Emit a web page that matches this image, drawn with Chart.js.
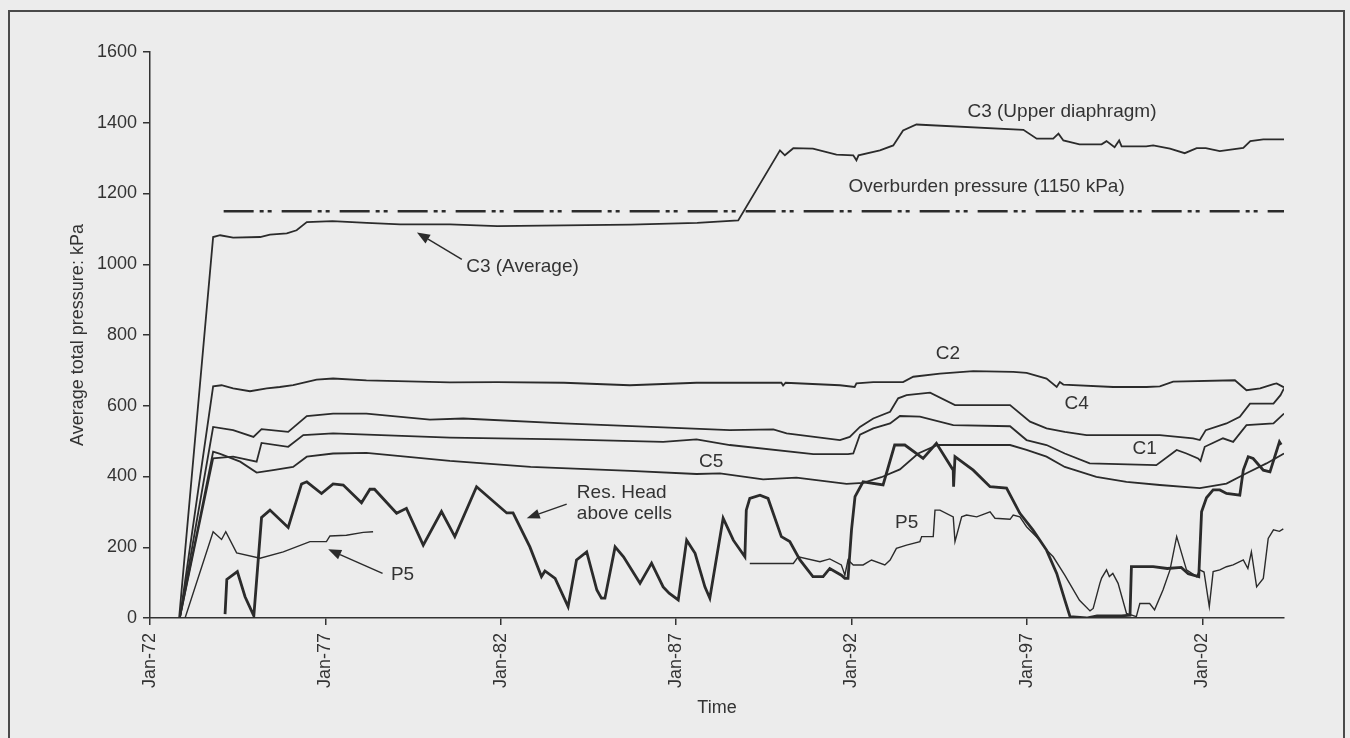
<!DOCTYPE html>
<html>
<head>
<meta charset="utf-8">
<title>Average total pressure</title>
<script src="https://cdn.jsdelivr.net/npm/chart.js@4.4.1/dist/chart.umd.min.js"></script>
<style>
  html, body { margin: 0; padding: 0; background: #ececec; }
  #wrap { width: 1350px; height: 738px; }
</style>
</head>
<body>
<div id="wrap"><canvas id="pressureChart" width="1350" height="738"></canvas></div>
<script>
// x tick positions (decimal years), labelled Jan-yy
const tickYears = [1972, 1977, 1982, 1987, 1992, 1997, 2002];
const overburden = 1150;

// [decimal year, kPa]
const c3 = [
  [1972.83, 0], [1973.80, 1077], [1974.0, 1082], [1974.37, 1075], [1975.14, 1077], [1975.42, 1084],
  [1975.9, 1087], [1976.18, 1096], [1976.47, 1119], [1977.2, 1122], [1978.18, 1117], [1979.13, 1113],
  [1980.55, 1113], [1981.9, 1108], [1983.8, 1110], [1985.7, 1112], [1987.6, 1117], [1988.77, 1124],
  [1989.96, 1322], [1990.1, 1308], [1990.34, 1328], [1990.9, 1327], [1991.57, 1310], [1992.05, 1308],
  [1992.14, 1294], [1992.2, 1308], [1992.81, 1322], [1993.19, 1336], [1993.47, 1378], [1993.85, 1395],
  [1996.9, 1380], [1997.28, 1355], [1997.75, 1355], [1997.9, 1369], [1998.04, 1350], [1998.5, 1339],
  [1999.13, 1339], [1999.27, 1348], [1999.5, 1331], [1999.63, 1350], [1999.7, 1333], [2000.4, 1333],
  [2000.6, 1336], [2001.08, 1327], [2001.5, 1314], [2001.84, 1328], [2002.1, 1328], [2002.5, 1320],
  [2003.17, 1329], [2003.37, 1348], [2003.74, 1353], [2004.33, 1353]
];

const c2 = [
  [1972.85, 0], [1973.8, 655], [1974.04, 658], [1974.37, 649], [1974.85, 641], [1975.33, 649],
  [1975.7, 653], [1976.08, 658], [1976.75, 674], [1977.22, 677], [1978.17, 672], [1980.55, 666],
  [1981.9, 667], [1983.8, 665], [1985.68, 658], [1987.58, 665], [1990.0, 665], [1990.05, 657],
  [1990.12, 665], [1991.67, 658], [1992.09, 653], [1992.14, 663], [1992.62, 667], [1993.47, 667],
  [1993.76, 682], [1994.52, 691], [1995.47, 698], [1996.61, 696], [1996.99, 693], [1997.56, 677],
  [1997.85, 653], [1997.94, 667], [1998.04, 660], [1999.46, 653], [2000.41, 653], [2000.79, 655],
  [2001.17, 668], [2002.93, 672], [2003.26, 644], [2003.65, 649], [2004.03, 661], [2004.12, 663],
  [2004.33, 652]
];

const c4 = [
  [1972.85, 0], [1973.8, 540], [1974.37, 531], [1974.95, 512], [1975.18, 534], [1975.94, 526],
  [1976.47, 571], [1977.22, 578], [1978.17, 578], [1979.98, 561], [1980.93, 564], [1983.78, 550],
  [1986.63, 539], [1988.53, 531], [1989.77, 533], [1990.15, 522], [1991.67, 503], [1991.95, 512],
  [1992.24, 540], [1992.62, 564], [1993.1, 583], [1993.33, 621], [1993.57, 630], [1994.24, 637],
  [1994.95, 602], [1996.52, 602], [1997.09, 555], [1997.56, 536], [1998.08, 526], [1998.7, 517],
  [2000.79, 517], [2001.74, 508], [2001.93, 503], [2002.1, 531], [2002.69, 550], [2003.07, 569],
  [2003.36, 606], [2004.03, 606], [2004.23, 630], [2004.33, 649]
];

const c1 = [
  [1972.85, 0], [1973.8, 451], [1974.37, 456], [1975.04, 442], [1975.18, 495], [1975.94, 484],
  [1976.37, 517], [1977.22, 522], [1980.55, 510], [1983.78, 505], [1986.63, 498], [1987.58, 505],
  [1988.53, 489], [1990.91, 463], [1991.9, 463], [1992.05, 465], [1992.24, 518], [1992.62, 536],
  [1993.1, 550], [1993.38, 571], [1993.95, 569], [1994.9, 545], [1996.52, 542], [1996.99, 503],
  [1997.56, 489], [1998.08, 465], [1998.79, 437], [2000.69, 432], [2001.27, 475], [2001.55, 465],
  [2001.88, 451], [2001.95, 444], [2002.07, 484], [2002.59, 508], [2002.88, 498], [2003.26, 545],
  [2004.03, 550], [2004.33, 578]
];

const c5 = [
  [1972.85, 0], [1973.8, 470], [1974.0, 464], [1974.57, 442], [1975.04, 411], [1975.51, 418],
  [1976.08, 427], [1976.47, 456], [1977.22, 465], [1978.17, 467], [1980.55, 444], [1982.85, 427],
  [1985.7, 416], [1987.58, 407], [1988.25, 409], [1989.48, 392], [1990.43, 397], [1991.86, 379],
  [1992.33, 382], [1992.85, 398], [1993.38, 420], [1993.9, 465], [1994.45, 489], [1996.52, 489],
  [1996.99, 475], [1997.56, 456], [1998.08, 427], [1998.98, 399], [1999.84, 385], [2000.79, 376],
  [2001.93, 367], [2002.69, 380], [2003.26, 409], [2003.83, 437], [2004.33, 465]
];

const resHead = [
  [1974.14, 11], [1974.19, 109], [1974.49, 131], [1974.71, 60], [1974.96, 6], [1975.18, 284],
  [1975.42, 305], [1975.94, 256], [1976.32, 379], [1976.47, 385], [1976.89, 352], [1977.22, 379],
  [1977.51, 376], [1978.03, 326], [1978.27, 364], [1978.4, 364], [1979.03, 296], [1979.31, 310],
  [1979.79, 206], [1980.31, 301], [1980.69, 230], [1981.31, 371], [1982.17, 297], [1982.35, 297],
  [1982.83, 201], [1983.16, 117], [1983.26, 133], [1983.55, 112], [1983.92, 32], [1984.16, 164],
  [1984.45, 187], [1984.74, 79], [1984.87, 56], [1984.97, 56], [1985.26, 201], [1985.5, 173],
  [1985.97, 98], [1986.3, 155], [1986.63, 88], [1986.8, 70], [1987.06, 51], [1987.3, 220],
  [1987.54, 183], [1987.82, 88], [1987.96, 56], [1988.34, 282], [1988.63, 220], [1988.96, 173],
  [1989.0, 305], [1989.1, 338], [1989.39, 347], [1989.62, 338], [1990.0, 230], [1990.24, 216],
  [1990.53, 164], [1990.9, 117], [1991.19, 117], [1991.38, 140], [1991.71, 121], [1991.81, 112],
  [1991.9, 112], [1992.0, 249], [1992.1, 343], [1992.33, 385], [1992.9, 376], [1993.23, 489],
  [1993.52, 489], [1994.04, 451], [1994.42, 494], [1994.9, 418], [1994.91, 371], [1994.95, 456],
  [1995.47, 418], [1995.95, 371], [1996.42, 367], [1996.8, 296], [1997.17, 249], [1997.56, 192],
  [1997.85, 126], [1998.08, 51], [1998.23, 4], [1998.7, 0], [1999.0, 6], [1999.7, 6],
  [1999.94, 8], [1999.98, 145], [2000.6, 145], [2001.0, 140], [2001.4, 143], [2001.6, 125],
  [2001.9, 117], [2001.98, 300], [2002.12, 340], [2002.31, 362], [2002.5, 362], [2002.69, 352],
  [2003.07, 347], [2003.17, 418], [2003.31, 456], [2003.45, 451], [2003.74, 418], [2003.93, 413],
  [2004.2, 498], [2004.25, 490]
];

const p5Early = [
  [1973.0, 0], [1973.8, 244], [1974.04, 222], [1974.16, 244], [1974.47, 184], [1975.14, 169],
  [1975.8, 187], [1976.56, 216], [1977.03, 216], [1977.13, 232], [1977.6, 234], [1978.08, 242],
  [1978.36, 244]
];

const p5Late = [
  [1989.1, 154], [1990.34, 154], [1990.48, 173], [1991.1, 159], [1991.38, 167], [1991.71, 150],
  [1991.76, 136], [1991.81, 121], [1991.9, 164], [1992.05, 150], [1992.33, 150], [1992.57, 164],
  [1992.95, 150], [1993.1, 164], [1993.28, 197], [1993.57, 206], [1993.95, 216], [1994.0, 230],
  [1994.33, 230], [1994.38, 305], [1994.52, 305], [1994.9, 286], [1994.95, 216], [1995.14, 286],
  [1995.28, 291], [1995.57, 286], [1995.95, 300], [1996.09, 282], [1996.52, 279], [1996.61, 291],
  [1996.8, 286], [1996.99, 258], [1997.37, 220], [1997.56, 192], [1997.75, 173], [1998.08, 121],
  [1998.5, 50], [1998.8, 20], [1998.89, 27], [1999.08, 98], [1999.13, 113], [1999.27, 136],
  [1999.35, 117], [1999.45, 126], [1999.6, 98], [1999.84, 13], [2000.12, 4], [2000.22, 41],
  [2000.5, 41], [2000.64, 23], [2000.88, 79], [2001.08, 136], [2001.27, 230], [2001.55, 136],
  [2001.84, 117], [2001.93, 136], [2002.05, 130], [2002.2, 32], [2002.31, 131], [2002.5, 136],
  [2002.69, 145], [2002.88, 150], [2003.17, 164], [2003.3, 140], [2003.4, 187], [2003.55, 88],
  [2003.74, 112], [2003.88, 225], [2004.03, 249], [2004.2, 245], [2004.31, 252]
];

const overburdenSpan = [1974.1, 2004.35];

// text labels and pointer arrows, placed in data units
const notes = [
  { text: 'C3 (Upper diaphragm)', x: 1998.0, y: 1430 },
  { text: 'Overburden pressure (1150 kPa)', x: 1995.85, y: 1218 },
  { text: 'C3 (Average)', x: 1982.62, y: 992 },
  { text: 'C2', x: 1994.75, y: 748 },
  { text: 'C4', x: 1998.42, y: 606 },
  { text: 'C1', x: 2000.36, y: 477 },
  { text: 'C5', x: 1988.0, y: 442 },
  { text: 'Res. Head', x: 1984.17, y: 355, align: 'left' },
  { text: 'above cells', x: 1984.17, y: 296, align: 'left' },
  { text: 'P5', x: 1979.2, y: 121 },
  { text: 'P5', x: 1993.57, y: 269 }
];
const arrows = [
  { from: [1980.89, 1014], to: [1979.61, 1090] },
  { from: [1983.88, 322], to: [1982.74, 282] },
  { from: [1978.63, 126], to: [1977.08, 194] }
];

const INK = '#2b2b2b';
const TEXT = '#333333';
const FONT = "'Liberation Sans', Arial, sans-serif";

const toPoints = arr => arr.map(([x, y]) => ({ x, y }));

function lineSet(label, arr, width) {
  return {
    label,
    data: toPoints(arr),
    borderColor: INK,
    borderWidth: width,
    pointRadius: 0,
    tension: 0,
    fill: false
  };
}

const pagePlugin = {
  id: 'page',
  beforeDraw(chart) {
    const { ctx, width, height } = chart;
    ctx.save();
    ctx.fillStyle = '#ececec';
    ctx.fillRect(0, 0, width, height);
    ctx.strokeStyle = '#4a4a4a';
    ctx.lineWidth = 2;
    ctx.strokeRect(9, 11, 1335, height + 20);
    ctx.restore();
  }
};

const notesPlugin = {
  id: 'notes',
  afterDatasetsDraw(chart) {
    const { ctx } = chart;
    const xs = chart.scales.x, ys = chart.scales.y;
    ctx.save();
    ctx.fillStyle = TEXT;
    ctx.font = '19px ' + FONT;
    ctx.textBaseline = 'middle';
    notes.forEach(n => {
      ctx.textAlign = n.align || 'center';
      ctx.fillText(n.text, xs.getPixelForValue(n.x), ys.getPixelForValue(n.y));
    });

    ctx.strokeStyle = INK;
    ctx.fillStyle = INK;
    ctx.lineWidth = 1.5;
    arrows.forEach(a => {
      const x0 = xs.getPixelForValue(a.from[0]), y0 = ys.getPixelForValue(a.from[1]);
      const x1 = xs.getPixelForValue(a.to[0]), y1 = ys.getPixelForValue(a.to[1]);
      const ang = Math.atan2(y1 - y0, x1 - x0);
      const len = 13, half = 5;
      const bx = x1 - len * Math.cos(ang), by = y1 - len * Math.sin(ang);
      ctx.beginPath();
      ctx.moveTo(x0, y0);
      ctx.lineTo(bx, by);
      ctx.stroke();
      ctx.beginPath();
      ctx.moveTo(x1, y1);
      ctx.lineTo(bx + half * Math.sin(ang), by - half * Math.cos(ang));
      ctx.lineTo(bx - half * Math.sin(ang), by + half * Math.cos(ang));
      ctx.closePath();
      ctx.fill();
    });
    ctx.restore();
  }
};

new Chart(document.getElementById('pressureChart'), {
  type: 'line',
  data: {
    datasets: [
      {
        label: 'Overburden pressure',
        data: overburdenSpan.map(x => ({ x, y: overburden })),
        borderColor: INK,
        borderWidth: 2.5,
        borderDash: [30, 6, 4, 4, 4, 10],
        pointRadius: 0,
        fill: false
      },
      lineSet('C3', c3, 1.8),
      lineSet('C2', c2, 1.8),
      lineSet('C4', c4, 1.8),
      lineSet('C1', c1, 1.8),
      lineSet('C5', c5, 1.8),
      lineSet('Res. Head above cells', resHead, 2.8),
      lineSet('P5', p5Early, 1.4),
      lineSet('P5 (later)', p5Late, 1.4)
    ]
  },
  options: {
    responsive: false,
    animation: false,
    layout: { padding: { left: 10, top: 52, right: 66, bottom: 0 } },
    plugins: {
      legend: { display: false },
      tooltip: { enabled: false }
    },
    scales: {
      x: {
        type: 'linear',
        min: 1972,
        max: 2004.33,
        afterBuildTicks: axis => { axis.ticks = tickYears.map(v => ({ value: v })); },
        afterFit: scale => { scale.height = 120; },
        grid: { drawOnChartArea: false, tickLength: 7, color: '#333', lineWidth: 1.5 },
        border: { display: true, color: '#333', width: 1.5 },
        ticks: {
          autoSkip: false,
          minRotation: 90,
          maxRotation: 90,
          padding: 8,
          color: TEXT,
          font: { family: FONT, size: 18 },
          callback: v => 'Jan-' + String(v).slice(2)
        },
        title: {
          display: true,
          text: 'Time',
          color: TEXT,
          font: { family: FONT, size: 18 },
          padding: { top: 0, bottom: 19 }
        }
      },
      y: {
        min: 0,
        max: 1600,
        afterFit: scale => { scale.width = 140; },
        grid: { drawOnChartArea: false, tickLength: 7, color: '#333', lineWidth: 1.5 },
        border: { display: true, color: '#333', width: 1.5 },
        ticks: {
          stepSize: 200,
          padding: 6,
          color: TEXT,
          font: { family: FONT, size: 18 },
          callback: v => String(v)
        },
        title: {
          display: true,
          text: 'Average total pressure: kPa',
          color: TEXT,
          font: { family: FONT, size: 18 },
          padding: { top: 57, bottom: 0 }
        }
      }
    }
  },
  plugins: [pagePlugin, notesPlugin]
});
</script>
</body>
</html>
